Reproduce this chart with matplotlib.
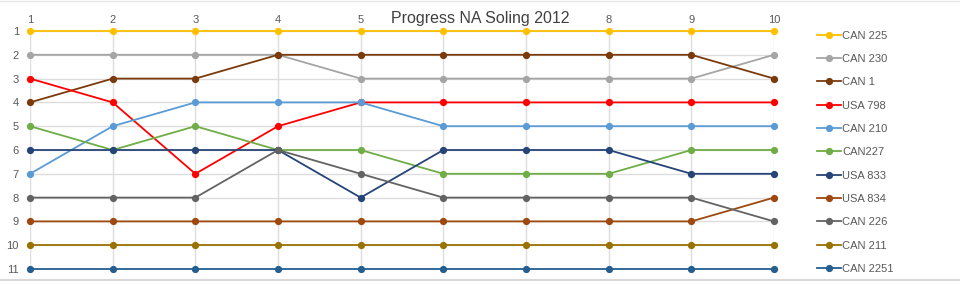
import matplotlib.pyplot as plt
from matplotlib.lines import Line2D

races = [1, 2, 3, 4, 5, 6, 7, 8, 9, 10]
# labels 6 and 7 sit under the title in the original, so they are not shown
race_labels = ['1', '2', '3', '4', '5', '', '', '8', '9', '10']
boats = ['CAN 225', 'CAN 230', 'CAN 1', 'USA 798', 'CAN 210', 'CAN227',
         'USA 833', 'USA 834', 'CAN 226', 'CAN 211', 'CAN 2251']
can_225 = [1, 1, 1, 1, 1, 1, 1, 1, 1, 1]
can_230 = [2, 2, 2, 2, 3, 3, 3, 3, 3, 2]
can_1 = [4, 3, 3, 2, 2, 2, 2, 2, 2, 3]
usa_798 = [3, 4, 7, 5, 4, 4, 4, 4, 4, 4]
can_210 = [7, 5, 4, 4, 4, 5, 5, 5, 5, 5]
can_227 = [5, 6, 5, 6, 6, 7, 7, 7, 6, 6]
usa_833 = [6, 6, 6, 6, 8, 6, 6, 6, 7, 7]
usa_834 = [9, 9, 9, 9, 9, 9, 9, 9, 9, 8]
can_226 = [8, 8, 8, 6, 7, 8, 8, 8, 8, 9]
can_211 = [10, 10, 10, 10, 10, 10, 10, 10, 10, 10]
can_2251 = [11, 11, 11, 11, 11, 11, 11, 11, 11, 11]
ranks = [1, 2, 3, 4, 5, 6, 7, 8, 9, 10, 11]

series = [can_225, can_230, can_1, usa_798, can_210, can_227,
          usa_833, usa_834, can_226, can_211, can_2251]
colors = ['#FFC000', '#A5A5A5', '#7B3A0C', '#FF0000', '#5B9BD5', '#70AD47',
          '#264478', '#9E480E', '#636363', '#997300', '#255E91']

plt.rcParams['font.family'] = ['Liberation Sans', 'DejaVu Sans']

fig = plt.figure(figsize=(9.6, 2.84), dpi=100)
ax = fig.add_axes([30 / 960, 1 - 269 / 284, (774 - 30) / 960, (269 - 31) / 284])

for name, vals, c in zip(boats, series, colors):
    ax.plot(races, vals, color=c, lw=1.3, marker='o', ms=4.2, label=name,
            clip_on=False, zorder=3)

ax.set_xlim(1, 10)
ax.set_ylim(11, 1)
ax.set_xticks(races, race_labels)
ax.set_yticks(ranks)
ax.xaxis.tick_top()
ax.tick_params(length=0, labelsize=8, colors='#595959')
ax.tick_params(axis='x', pad=4)
ax.tick_params(axis='y', pad=8)
ax.grid(True, color='#DDDDDD', lw=1)
for s in ax.spines.values():
    s.set_visible(False)

# title centred on the whole figure, as in the original
fig.text(480 / 960, 1 - 18 / 284, 'Progress NA Soling 2012', fontsize=11.5,
         color='#404040', ha='center', va='center')

ax.legend(loc='upper left', bbox_to_anchor=(811 / 960, 1 - 25 / 284),
          bbox_transform=fig.transFigure, frameon=False, fontsize=8,
          labelspacing=1.2, handlelength=2.2, handletextpad=0.1,
          borderpad=0, labelcolor='#595959')

fig.add_artist(Line2D([0, 1], [1 - 280 / 284] * 2, color='#D9D9D9', lw=1.5))
fig.add_artist(Line2D([0, 1], [1 - 1 / 284] * 2, color='#E6E6E6', lw=1))

fig.savefig('out.png', dpi=100)
